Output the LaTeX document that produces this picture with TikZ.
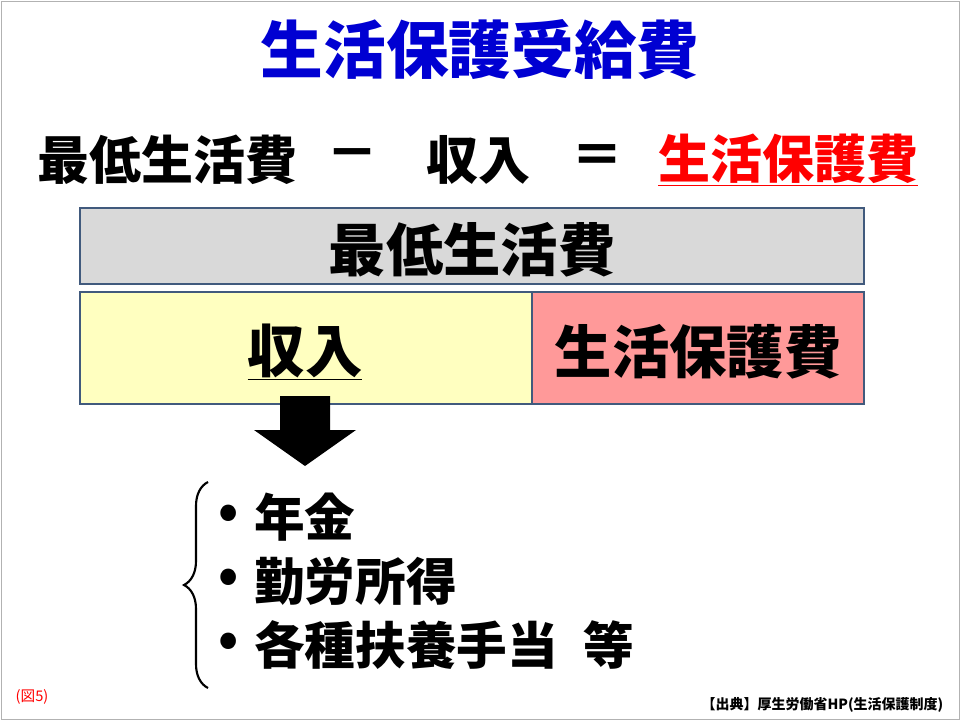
\documentclass[tikz,border=0pt]{standalone}
\usepackage{fontspec}
\setmainfont{Noto Sans CJK JP}
\usetikzlibrary{positioning,decorations.pathreplacing}
\definecolor{titleblue}{RGB}{0,0,210}
\definecolor{boxline}{RGB}{65,90,125}
\definecolor{grayfill}{RGB}{217,217,217}
\definecolor{yellowfill}{RGB}{255,255,192}
\definecolor{pinkfill}{RGB}{255,153,153}
\begin{document}
\begin{tikzpicture}[
        x=0.75pt, y=-0.75pt,
        % styles
        big/.style={font=\fontsize{39}{42}\selectfont\bfseries, inner sep=0pt},
        boxtext/.style={font=\fontsize{43}{46}\selectfont\bfseries, inner sep=0pt},
        box/.style={draw=boxline, line width=1.2pt},
        item/.style={font=\fontsize{38}{42}\selectfont\bfseries, anchor=west, inner sep=0pt}
    ]
        \useasboundingbox (0,0) rectangle (960,720);
        \draw[gray!60] (1,1) rectangle (959,719);

        % --- Title ---
        \node[font=\fontsize{47}{50}\selectfont\bfseries, text=titleblue, inner sep=0pt] (title) at (480,50) {生活保護受給費};

        % --- Equation ---
        \node[big] (eqmin) at (167,160) {最低生活費};
        \node[big] (eqminus) at (352,160) {－};
        \node[big] (eqinc) at (478,160) {収入};
        \node[big] (eqeq) at (597,160) {＝};
        \node[big, text=red] (eqres) at (788,160) {\underline{生活保護費}};

        % --- Boxes ---
        \draw[box, fill=grayfill] (80,208) rectangle (864,284);
        \node[boxtext] (minbox) at (472,250) {最低生活費};
        \draw[box, fill=yellowfill] (80,292) rectangle (532,404);
        \draw[box, fill=pinkfill] (532,292) rectangle (864,404);
        \node[boxtext] (incbox) at (305,352) {\underline{収入}};
        \node[boxtext] (resbox) at (698,352) {生活保護費};

        % --- Arrow ---
        \fill (280,396) -- (330,396) -- (330,430) -- (356,430) -- (305,466)
              -- (254,430) -- (280,430) -- cycle;

        % --- Brace and list ---
        \draw[line width=1.6pt, decorate, decoration={brace, amplitude=18pt, aspect=0.5}]
              (208,688) -- (208,482);
        \foreach \y/\t [count=\i] in {517/年金, 581/勤労所得, 645/各種扶養手当\hspace{0.5em}等}{
            \node[item] (bul\i) at (218,\y) {•};
            \node[item] (item\i) at (254,\y) {\t};
        }

        % --- Footer ---
        \node[text=red, font=\fontsize{11}{12}\selectfont] (fig) at (32,697) {(図5)};
        \node[font=\fontsize{10.5}{12}\selectfont\bfseries, anchor=east] (src) at (948,705)
              {【出典】厚生労働省HP(生活保護制度)};
\end{tikzpicture}
\end{document}
